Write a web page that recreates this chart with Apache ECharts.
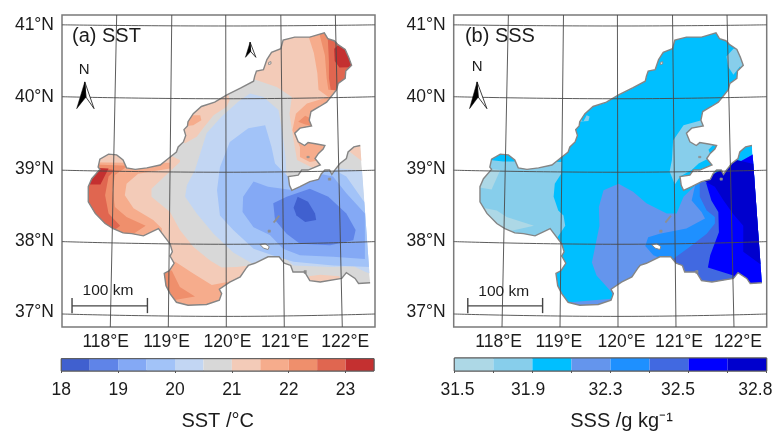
<!DOCTYPE html>
<html><head><meta charset="utf-8">
<style>html,body{margin:0;padding:0;background:#fff}#c{width:781px;height:432px}</style>
<script src="https://cdn.jsdelivr.net/npm/echarts@6/dist/echarts.min.js"></script>
</head><body><div id="c"></div>
<script>
// ---------- coastline (lon, lat), open sea boundary on the east is not stroked
const coast=[[122.31,39.33],[122.20,39.31],[122.10,39.24],[122.07,39.15],[121.96,39.08],[121.87,38.99],[121.82,38.93],[121.78,38.99],[121.70,38.99],[121.64,38.94],[121.59,38.86],[121.44,38.83],[121.27,38.76],[121.13,38.71],[121.09,38.78],[121.07,38.90],[121.24,38.92],[121.30,38.99],[121.41,38.99],[121.62,39.06],[121.53,39.15],[121.59,39.22],[121.67,39.28],[121.70,39.33],[121.56,39.35],[121.41,39.37],[121.35,39.33],[121.24,39.38],[121.18,39.50],[121.27,39.57],[121.47,39.60],[121.43,39.68],[121.46,39.80],[121.61,39.87],[121.73,39.93],[121.90,40.10],[121.93,40.19],[122.05,40.26],[122.06,40.36],[122.16,40.44],[122.11,40.55],[122.05,40.66],[121.92,40.73],[121.86,40.78],[121.75,40.81],[121.69,40.89],[121.44,40.83],[121.18,40.83],[120.98,40.79],[120.94,40.67],[120.78,40.62],[120.70,40.52],[120.64,40.38],[120.52,40.36],[120.49,40.29],[120.47,40.22],[120.26,40.13],[120.01,40.03],[119.80,39.93],[119.57,39.87],[119.43,39.77],[119.34,39.66],[119.33,39.60],[119.27,39.55],[119.30,39.47],[119.26,39.38],[119.17,39.31],[119.14,39.24],[119.00,39.15],[118.86,39.06],[118.63,39.02],[118.43,39.00],[118.28,39.02],[118.22,39.13],[118.11,39.20],[117.97,39.21],[117.82,39.14],[117.79,39.03],[117.82,39.00],[117.68,38.87],[117.62,38.76],[117.62,38.55],[117.74,38.39],[117.91,38.25],[118.05,38.18],[118.22,38.12],[118.37,38.11],[118.57,38.08],[118.83,38.18],[119.00,38.00],[119.03,37.97],[119.07,37.86],[119.03,37.80],[119.10,37.70],[119.02,37.60],[118.93,37.56],[118.96,37.39],[119.03,37.28],[119.14,37.16],[119.34,37.12],[119.66,37.13],[119.88,37.19],[119.92,37.28],[119.88,37.34],[120.06,37.44],[120.24,37.51],[120.34,37.63],[120.38,37.67],[120.49,37.70],[120.72,37.79],[120.91,37.79],[121.00,37.70],[121.11,37.67],[121.15,37.58],[121.35,37.58],[121.44,37.46],[121.62,37.44],[121.99,37.49],[122.07,37.57],[122.22,37.49],[122.28,37.42],[122.48,37.43]];
const lakes=[
 [[120.73,40.48],[120.77,40.49],[120.77,40.46],[120.73,40.45]],
 [[120.58,37.96],[120.67,37.97],[120.74,37.93],[120.72,37.89],[120.64,37.91]]
];
const islets=[
 [[121.39,39.18],[121.43,39.18],[121.43,39.16],[121.39,39.16]],
 [[121.76,38.88],[121.80,38.88],[121.80,38.85],[121.76,38.85]],
 [[120.90,38.36],[120.92,38.35],[120.83,38.26],[120.81,38.27]],
 [[120.72,38.16],[120.76,38.16],[120.76,38.13],[120.72,38.13]],
 [[121.34,37.60],[121.38,37.60],[121.38,37.56],[121.34,37.56]]
];
// ---------- SST contour regions (°C)
const sst21a=[[120.35,40.28],[120.87,40.14],[121.13,40.00],[121.09,39.77],[121.14,39.50],[121.18,39.31],[121.22,39.13],[121.56,38.99],[121.84,39.40],[122.42,39.96],[122.42,41.07],[120.70,41.07]];
const sst21b=[[119.20,39.13],[119.20,39.10],[118.71,38.73],[118.71,38.62],[119.03,38.41],[119.20,38.16],[119.43,37.93],[119.72,37.74],[119.92,37.64],[120.18,37.65],[120.41,37.67],[120.47,36.96],[117.82,36.96],[117.25,38.11],[117.25,39.22],[118.97,39.22]];
const sst21c=[[120.06,39.96],[120.01,39.87],[119.78,39.75],[119.60,39.57],[119.49,39.45],[119.29,39.36],[118.97,39.50],[119.20,40.05],[120.01,40.10]];
const sst21d=[[122.10,39.26],[122.33,39.12],[122.53,39.12],[122.53,39.40],[122.02,39.40]];
const sst21e=[[121.42,37.52],[121.62,37.54],[121.95,37.52],[122.00,37.40],[121.42,37.40]];
const sst215a=[[121.41,40.86],[121.51,40.61],[121.57,40.33],[121.59,40.10],[121.76,40.00],[121.39,39.91],[121.20,39.77],[121.14,39.54],[121.27,39.31],[121.27,39.17],[121.44,39.10],[121.64,39.13],[121.84,39.50],[122.42,39.96],[122.42,41.07],[121.41,41.07]];
const sst215b=[[119.03,39.01],[118.48,38.94],[118.28,38.80],[118.25,38.64],[118.40,38.46],[118.74,38.30],[118.89,38.18],[118.89,38.00],[117.82,38.00],[117.25,38.34],[117.25,39.10],[118.28,39.09],[119.03,39.09]];
const sst215c=[[119.55,39.75],[119.57,39.68],[119.43,39.61],[119.32,39.60],[119.20,39.60],[119.20,39.75]];
const sst215d=[[119.12,37.72],[119.43,37.56],[119.75,37.40],[120.15,37.46],[120.24,37.37],[120.12,36.96],[118.68,36.96],[118.80,37.72]];
const sst22a=[[121.61,40.86],[121.70,40.58],[121.73,40.26],[121.76,40.10],[122.42,40.05],[122.42,41.07],[121.61,41.07]];
const sst22b=[[121.24,39.66],[121.36,39.74],[121.47,39.70],[121.50,39.60],[121.36,39.62]];
const sst22c=[[117.25,39.08],[118.31,39.05],[118.08,38.92],[118.04,38.71],[118.08,38.48],[118.28,38.34],[118.61,38.22],[118.40,38.11],[117.25,38.02]];
const sst22d=[[119.06,37.60],[119.20,37.37],[119.46,37.24],[119.11,37.19],[118.80,37.20],[118.80,37.60]];
const sst225a=[[121.75,40.81],[121.77,40.49],[121.77,40.26],[121.80,40.10],[122.42,40.05],[122.42,41.07],[121.75,41.07]];
const sst225b=[[118.08,38.99],[117.97,38.90],[117.91,38.64],[117.97,38.39],[118.17,38.22],[118.02,38.13],[117.25,38.11],[117.25,39.08]];
const sst23a=[[121.86,40.67],[121.93,40.72],[122.42,40.72],[122.42,40.42],[121.95,40.41],[121.87,40.50]];
const sst23b=[[117.76,39.02],[117.97,39.01],[117.83,38.79],[117.65,38.79],[117.56,38.90]];
const sst205=[[122.36,38.98],[121.96,39.01],[121.04,38.87],[121.02,39.17],[120.97,39.50],[120.90,39.82],[120.64,40.00],[120.41,40.05],[120.21,39.94],[119.92,39.73],[119.66,39.50],[119.55,39.22],[119.46,38.99],[119.32,38.78],[119.29,38.62],[119.49,38.39],[119.78,38.11],[120.12,37.85],[120.44,37.70],[120.93,37.83],[121.16,37.67],[121.84,37.65],[122.20,37.66],[122.40,37.58],[122.59,37.53],[122.59,38.98]];
const sst20=[[120.67,39.61],[120.38,39.57],[120.06,39.38],[119.89,39.03],[119.84,38.71],[119.89,38.36],[120.12,38.16],[120.47,37.90],[120.87,37.79],[121.16,37.72],[121.84,37.67],[122.48,37.65],[122.53,38.43],[122.36,38.57],[122.07,38.90],[121.84,39.00],[121.10,38.87],[120.84,39.08],[120.78,39.31]];
const sst195=[[120.47,38.83],[120.29,38.62],[120.28,38.41],[120.47,38.20],[120.75,38.09],[120.98,37.90],[121.27,37.81],[121.84,37.79],[122.39,37.76],[122.39,38.39],[122.07,38.67],[121.84,38.90],[121.61,38.94],[121.16,38.71],[120.72,38.76]];
const sst19=[[120.81,38.53],[121.04,38.62],[121.44,38.73],[121.76,38.62],[122.07,38.39],[122.23,38.16],[122.19,38.02],[121.79,37.95],[121.27,37.97],[121.04,38.11],[120.84,38.30]];
const sst185=[[121.16,38.47],[121.23,38.62],[121.41,38.55],[121.53,38.39],[121.55,38.30],[121.36,38.27],[121.21,38.36]];
// ---------- SSS contour regions (g/kg)
const sss317a=[[117.22,39.13],[117.79,39.13],[118.02,39.11],[118.25,39.11],[119.03,39.10],[119.02,38.94],[118.91,38.80],[118.89,38.62],[118.97,38.43],[119.06,38.36],[119.09,38.22],[118.94,38.04],[117.22,38.04]];
const sss317b=[[121.87,40.56],[121.99,40.67],[122.28,40.67],[122.28,40.40],[122.10,40.42],[121.99,40.31],[121.90,40.42]];
const sss317c=[[121.44,39.68],[121.13,39.61],[120.95,39.40],[120.93,39.13],[120.89,38.97],[120.98,38.79],[121.07,38.90],[121.27,38.99],[121.39,39.08],[121.61,39.17],[121.56,39.27],[121.67,39.36],[121.59,39.50],[121.50,39.68]];
const sss317d=[[119.40,39.66],[119.46,39.75],[119.51,39.73],[119.49,39.67],[119.29,39.66],[119.29,39.75]];
const sss315a=[[117.74,39.01],[117.97,38.99],[117.82,38.72],[117.61,38.75],[117.59,38.90]];
const sss315b=[[117.71,38.46],[117.91,38.43],[118.08,38.34],[118.55,38.22],[118.05,38.13],[117.85,38.20],[117.62,38.39]];
const sss321a=[[120.01,38.80],[119.75,38.71],[119.67,38.48],[119.68,38.22],[119.55,37.71],[119.63,37.53],[119.89,37.30],[119.98,36.96],[122.68,36.96],[122.68,39.36],[121.93,39.03],[121.36,38.80],[121.13,38.62],[121.01,38.39],[120.84,38.39],[120.49,38.53],[120.26,38.69]];
const sss321b=[[119.17,37.16],[119.89,37.21],[119.92,36.96],[119.17,36.96]];
const sss323=[[121.33,38.78],[121.27,38.57],[121.44,38.41],[121.50,38.32],[121.18,38.18],[120.72,38.11],[120.52,38.06],[120.47,37.94],[120.61,37.81],[120.95,37.70],[121.82,37.74],[122.68,39.36],[121.93,39.03]];
const sss324=[[121.41,38.81],[121.41,38.62],[121.53,38.43],[121.67,38.34],[121.67,38.25],[121.53,38.11],[121.24,37.93],[120.95,37.76],[120.98,37.65],[121.24,37.19],[122.68,37.19],[122.68,39.36],[121.93,39.03]];
const sss325=[[121.52,38.81],[121.61,38.57],[121.73,38.41],[121.74,38.13],[121.59,37.81],[121.55,37.64],[121.99,37.53],[122.02,37.19],[122.68,37.19],[122.68,39.36],[121.93,39.03]];
const sss327=[[121.50,38.83],[121.61,38.92],[121.82,39.01],[122.05,39.13],[122.30,39.08],[122.68,39.03],[122.68,37.65],[122.45,37.69],[122.16,37.86],[122.16,38.22],[121.99,38.38],[121.82,38.57],[121.67,38.76]];
// ---------- colour bars
const sstEdges=[18,18.5,19,19.5,20,20.5,21,21.5,22,22.5,23,23.5];
const sstColors=['#4060cf','#5f84e8','#84a9f5','#a2c3f8','#c2d6f3','#d8d8d8','#f3cbb8','#f6ac8c','#ef8f6c','#e06650','#c43030'];
const sssEdges=[0,1,2,3,4,5,6,7,8];
const sssColors=['#add8e6','#87ceeb','#00bfff','#6495ed','#1e90ff','#4169e1','#0000ff','#0000cd'];
const sssTickLabels=['31.5','31.9','32.3','32.5','32.8'];
const sssTickSpots=[0.08,1.89,3.87,5.73,7.71];
const latTicks=[41,40,39,38,37.03];
const lonLabelSpotsA=[117.92,118.97,120.02,121.01,122.05];
const lonLabelSpotsB=[117.94,118.98,120.06,121.05,122.07];
// ---------- graticule (bent as in the projected map)
const XMIN=117.167,XMAX=122.564,YMIN=36.818,YMAX=41.136;
const meridians=[[[118.11,YMAX],[118,YMIN]],[[119.06,YMAX],[119,YMIN]],[[119.99,YMAX],[120,YMIN]],[[120.94,YMAX],[121,YMIN]],[[121.88,YMAX],[122,YMIN]]];
const parallels=[[41,40.984],[40.005,39.977],[38.988,38.96],[38,37.963],[36.998,36.965]].map(p=>[[XMIN,p[0]],[120,p[1]],[XMAX,p[0]]]);

const sstLayers=[['#d8d8d8',coast],
 ['#f3cbb8',sst21a],['#f3cbb8',sst21b],['#f3cbb8',sst21c],['#f3cbb8',sst21d],['#f3cbb8',sst21e],
 ['#f6ac8c',sst215a],['#f6ac8c',sst215b],['#f6ac8c',sst215c],['#f6ac8c',sst215d],
 ['#ef8f6c',sst22a],['#ef8f6c',sst22b],['#ef8f6c',sst22c],['#ef8f6c',sst22d],
 ['#e06650',sst225a],['#e06650',sst225b],['#c43030',sst23a],['#c43030',sst23b],
 ['#c2d6f3',sst205],['#a2c3f8',sst20],['#84a9f5',sst195],['#5f84e8',sst19],['#4060cf',sst185]];
const sssLayers=[['#00bfff',coast],
 ['#87ceeb',sss317a],['#87ceeb',sss317b],['#87ceeb',sss317c],['#87ceeb',sss317d],
 ['#add8e6',sss315a],['#add8e6',sss315b],
 ['#6495ed',sss321a],['#6495ed',sss321b],['#1e90ff',sss323],['#4169e1',sss324],['#0000ff',sss325],['#0000cd',sss327]];

const FONT='"Liberation Sans",Arial,sans-serif', INK='#1c1c1c';
const pts=(api,r)=>r.map(p=>api.coord(p));

function customOn(g,data,render,z){
  return {type:'custom',xAxisIndex:g,yAxisIndex:g,coordinateSystem:'cartesian2d',silent:true,z:z,animation:false,clip:false,
          data:data.map((d,i)=>[i,0]),renderItem:(params,api)=>render(data[params.dataIndex],api)};
}
function panel(g,layers,texts,arrows,bar){
  const out=[];
  out.push(customOn(g,layers,(l,api)=>({type:'polygon',shape:{points:pts(api,l[1])},style:{fill:l[0]},
     clipPath:{type:'polygon',shape:{points:pts(api,coast)}}}),2));
  out.push(customOn(g,lakes,(r,api)=>({type:'polygon',shape:{points:pts(api,r)},style:{fill:'#fff',stroke:'#8a8a8a',lineWidth:1}}),3));
  out.push(customOn(g,islets,(r,api)=>({type:'polygon',shape:{points:pts(api,r)},style:{fill:'#8f8f8f',stroke:'#8f8f8f',lineWidth:0.6}}),3));
  out.push(customOn(g,[coast],(r,api)=>({type:'polyline',shape:{points:pts(api,r)},style:{fill:null,stroke:'#858585',lineWidth:1.4}}),3));
  meridians.concat(parallels).forEach(l=>out.push({type:'line',xAxisIndex:g,yAxisIndex:g,data:l,showSymbol:false,silent:true,animation:false,z:4,
     smooth:l.length>2?0.5:false,lineStyle:{color:'#4a4a4a',width:0.9}}));
  out.push(customOn(g,arrows,(a,api)=>({type:'group',children:[
     {type:'polygon',shape:{points:pts(api,[a[3],a[2],a[0]])},style:{fill:'#fff',stroke:'#111',lineWidth:0.8}},
     {type:'polygon',shape:{points:pts(api,[a[0],a[1],a[2]])},style:{fill:'#000',stroke:'#000',lineWidth:0.5}}]}),5));
  out.push(customOn(g,bar,(b,api)=>({type:'polyline',shape:{points:pts(api,b)},style:{fill:null,stroke:'#444',lineWidth:1.4}}),5));
  out.push(customOn(g,texts,(t,api)=>{const c=api.coord([t[0],t[1]]);return {type:'text',x:c[0],y:c[1],
     style:{text:t[2],fontSize:t[3],fontFamily:FONT,fill:INK,align:t[4],verticalAlign:'middle'}};},6));
  return out;
}
function scale(x0,x1){return [[[x0,37.11],[x1,37.11]],[[x0,37.22],[x0,37.01]],[[x1,37.22],[x1,37.01]]];}
const textsA=[[117.34,40.84,'(a) SST',20,'left'],[117.55,40.38,'N',15,'center'],[117.96,37.32,'100 km',15.5,'center']];
const textsB=[[117.36,40.84,'(b) SSS',20,'left'],[117.57,40.42,'N',15,'center'],[118.03,37.31,'100 km',15.5,'center']];
const arrowsA=[[[117.56,40.21],[117.42,39.84],[117.58,40.00],[117.72,39.84]],[[120.41,40.76],[120.33,40.55],[120.42,40.63],[120.51,40.55]]];
const arrowsB=[[[117.57,40.21],[117.44,39.84],[117.59,40.00],[117.74,39.84]]];

function mapX(g,spots){return {gridIndex:g,type:'value',min:XMIN,max:XMAX,splitLine:{show:false},axisLine:{show:false},axisTick:{show:false},
  axisLabel:{customValues:spots,formatter:v=>Math.round(v)+'°E',fontSize:17.5,fontFamily:FONT,color:INK,margin:6,showMinLabel:true,showMaxLabel:true}};}
function mapY(g){return {gridIndex:g,type:'value',min:YMIN,max:YMAX,splitLine:{show:false},axisLine:{show:false},axisTick:{show:false},
  axisLabel:{customValues:latTicks,formatter:v=>Math.round(v)+'°N',fontSize:17.5,fontFamily:FONT,color:INK,margin:8}};}
function barY(g){return {gridIndex:g,type:'value',min:0,max:1,show:false};}
function barSeries(g,edges,colors){
  const cells=customOn(g,colors.map((c,i)=>[edges[i],edges[i+1],c]),(d,api)=>{
    const a=api.coord([d[0],1]),b=api.coord([d[1],0]);
    return {type:'rect',shape:{x:a[0],y:a[1],width:b[0]-a[0],height:b[1]-a[1]},style:{fill:d[2]}};},2);
  const rim=customOn(g,[[edges[0],edges[edges.length-1]]],(d,api)=>{
    const a=api.coord([d[0],1]),b=api.coord([d[1],0]);
    return {type:'rect',shape:{x:a[0],y:a[1],width:b[0]-a[0],height:b[1]-a[1]},style:{fill:null,stroke:'#5a5a5a',lineWidth:1}};},3);
  return [cells,rim];
}
const frame={show:true,borderColor:'#7a7a7a',borderWidth:1.5,backgroundColor:'#fff'};
const barFrame={show:true,borderColor:'#555',borderWidth:1,backgroundColor:'#fff'};
const option={
  animation:false,backgroundColor:'#fff',
  grid:[Object.assign({left:62,top:15,width:313,height:312},frame),
        Object.assign({left:453.7,top:15,width:313,height:312},frame),
        Object.assign({left:61.3,top:358.7,width:312.7,height:17},barFrame),
        Object.assign({left:454.3,top:358,width:312.4,height:16.7},barFrame)],
  xAxis:[mapX(0,lonLabelSpotsA),mapX(1,lonLabelSpotsB),
    {gridIndex:2,type:'value',min:18,max:23.5,interval:1,splitLine:{show:false},axisLine:{show:false},axisTick:{length:2,lineStyle:{color:'#555'}},
     axisLabel:{fontSize:17.5,fontFamily:FONT,color:INK,margin:10,showMaxLabel:false},
     name:'SST /°C',nameLocation:'middle',nameGap:40,nameTextStyle:{fontSize:20,fontFamily:FONT,color:INK}},
    {gridIndex:3,type:'value',min:0,max:8,interval:1,splitLine:{show:false},axisLine:{show:false},axisTick:{length:2,lineStyle:{color:'#555'}},
     axisLabel:{customValues:sssTickSpots,formatter:v=>sssTickLabels[sssTickSpots.indexOf(v)],fontSize:17.5,fontFamily:FONT,color:INK,margin:10},
     name:'SSS /g kg⁻¹',nameLocation:'middle',nameGap:40,nameTextStyle:{fontSize:20,fontFamily:FONT,color:INK,padding:[0,0,0,22]}}],
  yAxis:[mapY(0),mapY(1),barY(2),barY(3)],
  series:[].concat(
    panel(0,sstLayers,textsA,arrowsA,scale(117.34,118.64)),
    panel(1,sssLayers,textsB,arrowsB,scale(117.41,118.70)),
    barSeries(2,sstEdges,sstColors),barSeries(3,sssEdges,sssColors))
};
echarts.init(document.getElementById('c'),null,{renderer:'canvas'}).setOption(option);
</script></body></html>
